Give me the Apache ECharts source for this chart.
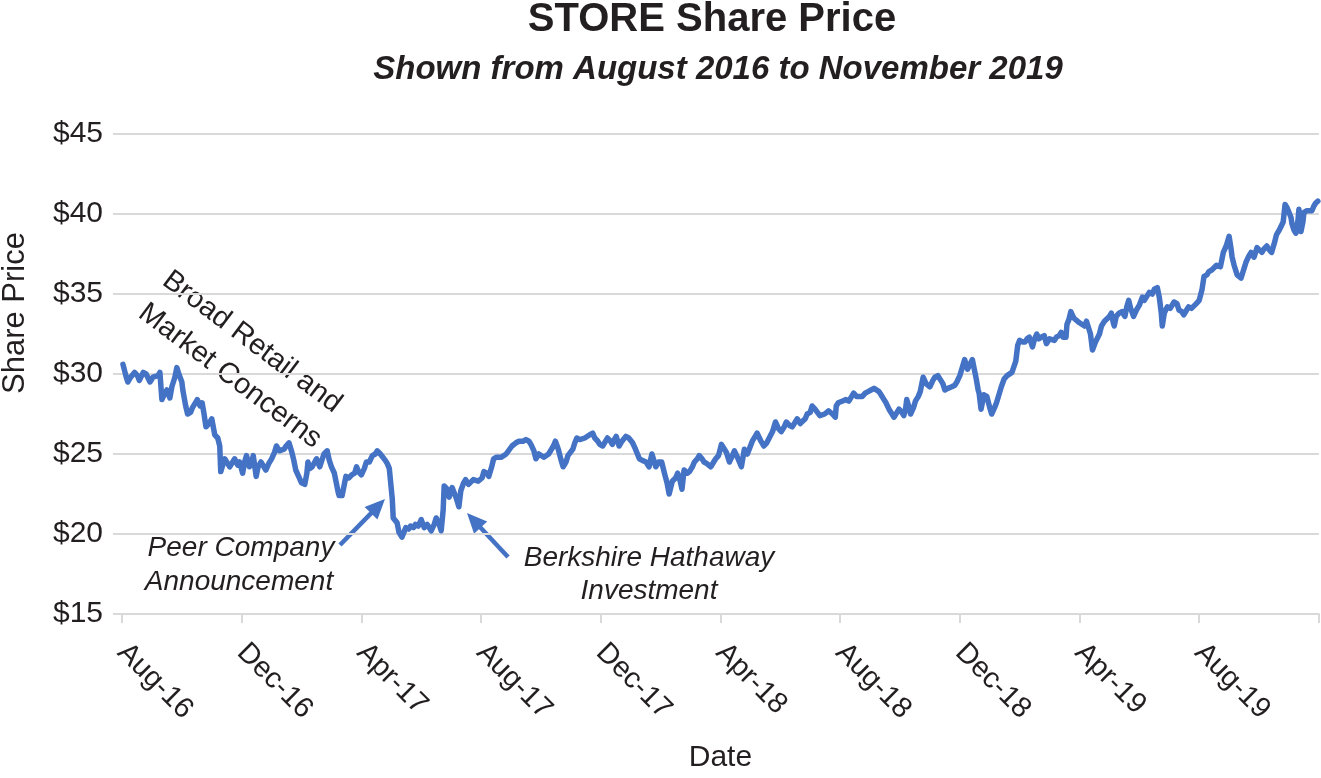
<!DOCTYPE html>
<html>
<head>
<meta charset="utf-8">
<script src="https://cdn.jsdelivr.net/npm/echarts@6/dist/echarts.min.js"></script>
<style>
html,body{margin:0;padding:0;background:#fff;}
#chart{width:1321px;height:778px;}
</style>
</head>
<body>
<div id="chart"></div>
<script>
// ---- data ----
const tickLabels = ['Aug-16','Dec-16','Apr-17','Aug-17','Dec-17','Apr-18','Aug-18','Dec-18','Apr-19','Aug-19',''];
const yTicks = [15, 20, 25, 30, 35, 40, 45];

const tradeDates = [
'2016-08-02','2016-08-05','2016-08-07','2016-08-10','2016-08-14','2016-08-17','2016-08-19','2016-08-23','2016-08-26','2016-08-30',
'2016-09-02','2016-09-04','2016-09-07','2016-09-09','2016-09-11','2016-09-14','2016-09-16','2016-09-19','2016-09-21','2016-09-24','2016-09-26','2016-09-28',
'2016-10-01','2016-10-02','2016-10-05','2016-10-07','2016-10-10','2016-10-12','2016-10-15','2016-10-17','2016-10-20','2016-10-22','2016-10-24','2016-10-26','2016-10-29',
'2016-11-01','2016-11-04','2016-11-07','2016-11-09','2016-11-10','2016-11-12','2016-11-14','2016-11-17','2016-11-19','2016-11-22','2016-11-24','2016-11-27','2016-11-29',
'2016-12-02','2016-12-04','2016-12-06','2016-12-09','2016-12-11','2016-12-13','2016-12-14','2016-12-16','2016-12-18','2016-12-21','2016-12-24','2016-12-26','2016-12-29',
'2017-01-01','2017-01-04','2017-01-06','2017-01-09','2017-01-11','2017-01-14','2017-01-16','2017-01-19','2017-01-22','2017-01-24','2017-01-26','2017-01-29',
'2017-02-01','2017-02-04','2017-02-06','2017-02-07','2017-02-09','2017-02-11','2017-02-15','2017-02-18','2017-02-20','2017-02-22','2017-02-25','2017-02-27',
'2017-03-01','2017-03-04','2017-03-06','2017-03-08','2017-03-09','2017-03-12','2017-03-14','2017-03-16','2017-03-19','2017-03-22','2017-03-25','2017-03-27','2017-03-29',
'2017-04-01','2017-04-04','2017-04-06','2017-04-09','2017-04-12','2017-04-15','2017-04-17','2017-04-20','2017-04-22','2017-04-25','2017-04-27','2017-04-29',
'2017-05-01','2017-05-02','2017-05-03','2017-05-04','2017-05-07','2017-05-09','2017-05-12','2017-05-14','2017-05-16','2017-05-19','2017-05-21','2017-05-24','2017-05-26','2017-05-29',
'2017-06-01','2017-06-04','2017-06-07','2017-06-09','2017-06-11','2017-06-14','2017-06-16','2017-06-19','2017-06-21','2017-06-23','2017-06-24','2017-06-27','2017-06-29',
'2017-07-02','2017-07-06','2017-07-09','2017-07-11','2017-07-14','2017-07-16','2017-07-19','2017-07-21','2017-07-24','2017-07-26','2017-07-29',
'2017-08-02','2017-08-04','2017-08-07','2017-08-09','2017-08-12','2017-08-14','2017-08-17','2017-08-19','2017-08-22','2017-08-24','2017-08-27','2017-08-29',
'2017-09-02','2017-09-06','2017-09-09','2017-09-13','2017-09-16','2017-09-19','2017-09-21','2017-09-24','2017-09-26','2017-09-29',
'2017-10-01','2017-10-04','2017-10-06','2017-10-09','2017-10-11','2017-10-14','2017-10-16','2017-10-19','2017-10-22','2017-10-24','2017-10-27','2017-10-29',
'2017-11-03','2017-11-05','2017-11-07','2017-11-10','2017-11-12','2017-11-15','2017-11-17','2017-11-20','2017-11-23','2017-11-25','2017-11-28','2017-11-30',
'2017-12-03','2017-12-06','2017-12-08','2017-12-11','2017-12-13','2017-12-15','2017-12-17','2017-12-20','2017-12-23','2017-12-27','2017-12-30',
'2018-01-03','2018-01-06','2018-01-08','2018-01-10','2018-01-13','2018-01-17','2018-01-20','2018-01-23','2018-01-25','2018-01-27','2018-01-30',
'2018-02-02','2018-02-05','2018-02-07','2018-02-09','2018-02-12','2018-02-15','2018-02-17','2018-02-19','2018-02-21','2018-02-23','2018-02-26','2018-02-28',
'2018-03-03','2018-03-05','2018-03-08','2018-03-10','2018-03-13','2018-03-15','2018-03-18','2018-03-22','2018-03-25','2018-03-27','2018-03-30',
'2018-04-02','2018-04-05','2018-04-07','2018-04-10','2018-04-13','2018-04-15','2018-04-18','2018-04-22','2018-04-25','2018-04-28','2018-04-30',
'2018-05-03','2018-05-06','2018-05-08','2018-05-12','2018-05-15','2018-05-18','2018-05-20','2018-05-24','2018-05-27','2018-05-30',
'2018-06-02','2018-06-05','2018-06-07','2018-06-10','2018-06-13','2018-06-15','2018-06-18','2018-06-21','2018-06-23','2018-06-26','2018-06-28',
'2018-07-01','2018-07-03','2018-07-06','2018-07-08','2018-07-11','2018-07-13','2018-07-16','2018-07-20','2018-07-24','2018-07-27','2018-07-28','2018-07-30',
'2018-08-03','2018-08-07','2018-08-10','2018-08-12','2018-08-15','2018-08-18','2018-08-20','2018-08-24','2018-08-27','2018-08-30',
'2018-09-02','2018-09-05','2018-09-07','2018-09-10','2018-09-12','2018-09-15','2018-09-17','2018-09-20','2018-09-23','2018-09-25','2018-09-28','2018-09-30',
'2018-10-03','2018-10-05','2018-10-07','2018-10-08','2018-10-10','2018-10-12','2018-10-15','2018-10-17','2018-10-20','2018-10-22','2018-10-24','2018-10-25','2018-10-28',
'2018-11-01','2018-11-04','2018-11-06','2018-11-09','2018-11-11','2018-11-14','2018-11-16','2018-11-19','2018-11-23','2018-11-26','2018-11-28',
'2018-12-01','2018-12-03','2018-12-06','2018-12-09','2018-12-11','2018-12-14','2018-12-16','2018-12-18','2018-12-20','2018-12-21','2018-12-23','2018-12-26','2018-12-29',
'2019-01-01','2019-01-03','2019-01-06','2019-01-08','2019-01-11','2019-01-13','2019-01-16','2019-01-19','2019-01-21','2019-01-24','2019-01-26','2019-01-28','2019-01-30',
'2019-02-01','2019-02-04','2019-02-06','2019-02-08','2019-02-10','2019-02-13','2019-02-15','2019-02-17','2019-02-19','2019-02-21','2019-02-24','2019-02-26',
'2019-03-01','2019-03-03','2019-03-06','2019-03-08','2019-03-11','2019-03-13','2019-03-15','2019-03-18','2019-03-19','2019-03-21','2019-03-23','2019-03-26','2019-03-28',
'2019-04-01','2019-04-03','2019-04-06','2019-04-08','2019-04-09','2019-04-12','2019-04-14','2019-04-17','2019-04-19','2019-04-21','2019-04-23','2019-04-26','2019-04-28',
'2019-05-01','2019-05-03','2019-05-05','2019-05-06','2019-05-08','2019-05-11','2019-05-14','2019-05-17','2019-05-19','2019-05-21','2019-05-23','2019-05-26','2019-05-29',
'2019-06-01','2019-06-04','2019-06-06','2019-06-08','2019-06-11','2019-06-14','2019-06-16','2019-06-19','2019-06-21','2019-06-23','2019-06-24','2019-06-26','2019-06-29',
'2019-07-02','2019-07-04','2019-07-06','2019-07-09','2019-07-11','2019-07-14','2019-07-16','2019-07-19','2019-07-21','2019-07-24','2019-07-26','2019-07-29',
'2019-08-01','2019-08-04','2019-08-06','2019-08-09','2019-08-11','2019-08-14','2019-08-16','2019-08-19','2019-08-23','2019-08-26','2019-08-29',
'2019-09-01','2019-09-03','2019-09-04','2019-09-06','2019-09-09','2019-09-11','2019-09-13','2019-09-16','2019-09-18','2019-09-21','2019-09-23','2019-09-26','2019-09-29',
'2019-10-01','2019-10-04','2019-10-06','2019-10-09','2019-10-11','2019-10-14','2019-10-17','2019-10-19','2019-10-22','2019-10-24','2019-10-26','2019-10-28','2019-10-30',
'2019-11-01','2019-11-03','2019-11-04','2019-11-06','2019-11-08','2019-11-10','2019-11-11','2019-11-13','2019-11-15','2019-11-16','2019-11-19','2019-11-21','2019-11-24','2019-11-26','2019-11-28','2019-11-30'
];

const closePrices = [
30.6,29.9,29.5,29.8,30.1,29.9,29.6,30.1,30.0,29.5,
29.8,29.8,29.9,30.1,28.4,28.8,29.0,28.5,29.2,29.8,30.4,30.0,
29.5,29.0,28.0,27.5,27.6,27.9,28.2,28.4,28.0,28.2,27.5,26.7,26.9,
27.2,26.2,26.0,25.5,23.9,24.3,24.7,24.4,24.2,24.5,24.7,24.3,24.5,
23.8,24.5,24.9,24.2,24.4,24.9,25.0,23.6,24.2,24.5,24.2,24.0,24.4,
24.7,25.1,25.5,25.2,25.1,25.3,25.5,25.7,25.1,24.6,24.0,23.6,
23.2,23.1,23.8,24.5,24.1,24.2,24.7,24.2,24.6,25.0,25.2,24.6,
24.2,23.8,23.2,22.6,22.4,22.4,22.5,23.6,23.5,23.7,23.8,24.2,23.9,
23.7,24.1,24.5,24.5,24.9,25.0,25.2,25.0,24.9,24.6,24.4,24.1,
24.0,22.2,21.0,20.9,20.7,20.1,19.8,19.7,20.4,20.3,20.5,20.4,20.6,20.5,
20.9,20.4,20.6,20.7,20.2,20.6,21.0,20.6,20.2,21.5,23.0,22.8,22.3,
22.9,22.3,21.7,22.7,23.2,23.4,23.1,23.2,23.4,23.5,23.3,
23.5,23.9,23.8,23.6,24.2,24.7,24.8,24.9,24.8,24.7,25.0,25.0,
25.5,25.7,25.8,25.8,25.9,25.8,25.6,25.2,24.7,25.0,
25.1,24.8,24.8,25.0,25.1,25.5,25.8,25.3,24.6,24.2,24.5,24.9,
25.3,25.7,26.0,25.9,25.8,26.0,26.1,26.2,26.3,26.0,25.8,25.6,
25.5,25.8,26.0,25.8,25.6,25.9,26.1,25.5,25.8,26.1,26.0,
25.7,25.3,25.0,24.7,24.6,24.5,24.2,25.0,24.6,24.2,24.5,
24.5,23.7,23.2,22.5,23.3,23.5,23.8,23.4,22.8,24.0,23.8,23.9,
24.2,24.5,24.7,24.9,24.7,24.5,24.4,24.2,24.5,24.7,24.9,
25.6,25.3,25.1,24.5,24.9,25.2,24.8,24.2,25.3,25.0,24.9,
25.8,26.1,26.3,25.8,25.5,25.7,25.8,26.4,27.0,26.6,
26.4,26.7,27.0,26.8,26.7,26.9,27.2,26.9,26.8,27.2,27.5,
27.6,28.0,27.8,27.7,27.4,27.5,27.5,27.7,27.5,27.3,28.0,28.2,
28.3,28.4,28.3,28.3,28.8,28.6,28.5,28.6,28.8,28.9,
29.0,29.1,29.2,28.9,28.7,28.4,28.2,27.8,27.5,27.3,27.6,27.8,
27.6,27.4,27.9,28.4,28.0,27.5,27.9,28.3,28.6,28.9,29.5,29.8,29.4,
29.2,29.6,29.8,29.9,29.9,29.4,29.0,29.1,29.2,29.3,29.5,
29.9,30.3,30.9,30.3,30.2,30.9,30.3,29.7,29.0,28.8,27.8,28.7,28.6,
27.9,27.5,27.9,28.2,28.8,29.2,29.7,29.9,30.0,30.1,30.2,30.8,31.8,
32.1,32.0,32.0,32.2,32.3,31.7,32.2,32.5,32.2,32.3,32.4,31.9,
32.2,32.3,32.1,32.3,32.4,32.6,32.3,32.3,33.1,33.4,33.9,33.5,33.4,
33.2,33.3,33.0,33.3,33.4,32.5,31.5,32.0,31.9,32.5,33.0,33.3,33.4,
33.6,33.8,33.2,33.0,33.6,33.8,33.9,33.6,34.2,34.6,34.1,33.6,34.0,
34.3,34.8,34.6,34.5,35.1,35.0,35.3,35.4,34.8,33.8,33.0,33.8,34.2,
34.1,34.3,34.5,34.4,34.0,33.9,33.7,34.0,34.2,34.1,34.1,34.4,
34.6,35.3,36.1,36.2,36.4,36.5,36.4,36.8,36.7,37.6,38.0,
38.6,37.8,37.3,36.8,36.2,36.1,36.0,36.6,37.0,37.4,37.6,37.3,37.9,
37.8,37.6,37.8,38.0,37.8,37.6,38.2,38.7,39.0,39.1,39.5,40.6,40.4,
40.3,39.8,39.4,39.0,38.8,39.6,40.3,38.9,39.5,40.1,40.2,40.3,40.2,40.5,40.7,40.8
];

// ---- helpers ----
function monthPos(s) {
  const p = s.split('-').map(Number);
  const dim = new Date(p[0], p[1], 0).getDate();
  return (p[0] - 2016) * 12 + (p[1] - 8) + (p[2] - 1) / dim;
}
const seriesData = tradeDates.map((d, i) => [monthPos(d), closePrices[i]]);

const FONT = "'Liberation Sans', Arial, Helvetica, sans-serif";
const TXT = '#231f20';
const BLUE = '#4472C4';
const GRID = '#d9d9d9';

function arrow(x1, y1, x2, y2, headLen, headHalf) {
  const dx = x2 - x1, dy = y2 - y1, L = Math.hypot(dx, dy);
  const ux = dx / L, uy = dy / L;
  const bx = x2 - ux * headLen, by = y2 - uy * headLen;
  const px = -uy * headHalf, py = ux * headHalf;
  return [
    { type: 'line', shape: { x1: x1, y1: y1, x2: bx + ux * 2, y2: by + uy * 2 },
      style: { stroke: BLUE, lineWidth: 4.5 } },
    { type: 'polygon', shape: { points: [[x2, y2], [bx + px, by + py], [bx - px, by - py]] },
      style: { fill: BLUE } }
  ];
}

function txt(x, y, text, size, opts) {
  opts = opts || {};
  return {
    type: 'text', x: x, y: y, rotation: opts.rot || 0,
    style: {
      x: 0, y: 0, text: text, fill: TXT, fontFamily: FONT, fontSize: size,
      fontWeight: opts.bold ? 'bold' : 'normal', fontStyle: opts.italic ? 'italic' : 'normal',
      align: 'center', verticalAlign: 'middle'
    }
  };
}

const chart = echarts.init(document.getElementById('chart'), null, { renderer: 'canvas' });
const rot = -37 * Math.PI / 180;

chart.setOption({
  backgroundColor: '#fff',
  animation: false,
  grid: { left: 122, right: 1, top: 134, bottom: 163, containLabel: false },
  xAxis: {
    type: 'value', min: 0, max: 40, interval: 4,
    name: 'Date', nameLocation: 'middle', nameGap: 129,
    nameTextStyle: { fontFamily: FONT, fontSize: 30, color: TXT },
    axisLine: { show: true, lineStyle: { color: GRID, width: 2 } },
    axisTick: { show: true, length: 9, lineStyle: { color: GRID, width: 2 } },
    splitLine: { show: false },
    axisLabel: {
      rotate: -45, margin: 34, fontFamily: FONT, fontSize: 29, color: TXT,
      showMaxLabel: true,
      formatter: v => tickLabels[Math.round(v / 4)] || ''
    }
  },
  yAxis: {
    type: 'value', min: yTicks[0], max: yTicks[yTicks.length - 1], interval: 5,
    axisLine: { show: false },
    axisTick: { show: true, length: 9, lineStyle: { color: GRID, width: 2 } },
    splitLine: { show: true, lineStyle: { color: GRID, width: 2 } },
    axisLabel: { margin: 19, fontFamily: FONT, fontSize: 30, color: TXT, formatter: v => '$' + v }
  },
  series: [{
    type: 'line', data: seriesData, showSymbol: false, symbol: 'none',
    lineStyle: { color: BLUE, width: 5.5, cap: 'round', join: 'round' },
    z: 5
  }],
  graphic: [
    txt(712, 20, 'STORE Share Price', 40, { bold: true }),
    txt(718, 70, 'Shown from August 2016 to November 2019', 33, { bold: true, italic: true }),
    txt(15, 313, 'Share Price', 31, { rot: Math.PI / 2 }),
    txt(252, 342, 'Broad Retail and', 29, { rot: rot }),
    txt(230, 376, 'Market Concerns', 29, { rot: rot }),
    txt(241, 548, 'Peer Company', 28, { italic: true }),
    txt(239, 582, 'Announcement', 28, { italic: true }),
    txt(649, 558, 'Berkshire Hathaway', 28, { italic: true }),
    txt(649, 591, 'Investment', 28, { italic: true })
  ].concat(arrow(340, 545, 385, 499, 20, 9), arrow(508, 557, 467, 513, 20, 9))
});
</script>
</body>
</html>
